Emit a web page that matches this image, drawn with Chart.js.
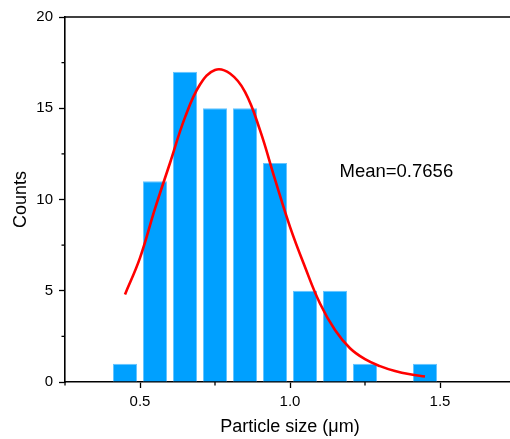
<!DOCTYPE html>
<html lang="en">

<head>
    <meta charset="UTF-8">
    <title>Particle size histogram</title>
    <style>
        html, body {
            margin: 0;
            padding: 0;
            background: white;
            overflow: hidden;
        }

        #chart-container {
            position: relative;
            width: 520px;
            height: 439px;
        }
    </style>
</head>

<body>
    <div id="chart-container">
        <canvas id="myChart"></canvas>
    </div>

    <script src="https://cdn.jsdelivr.net/npm/chart.js"></script>
    <script>
        // histogram bins (centre of each 0.1 um bin) and counts
        const binCenters = [0.45, 0.55, 0.65, 0.75, 0.85, 0.95, 1.05, 1.15, 1.25, 1.35, 1.45];
        const counts = [1, 11, 17, 15, 15, 12, 5, 5, 1, 0, 1];

        // fitted curve
        const fitX = [0.45, 0.50, 0.55, 0.60, 0.65, 0.70, 0.75, 0.80, 0.85, 0.90, 0.95,
            1.00, 1.05, 1.10, 1.15, 1.20, 1.25, 1.30, 1.35, 1.40, 1.45];
        const fitY = [4.8, 6.8, 9.5, 12.0, 14.5, 16.3, 17.1, 16.9, 15.9, 13.8, 11.1,
            8.5, 6.3, 4.3, 2.85, 1.85, 1.25, 0.87, 0.6, 0.42, 0.3];

        const meanText = 'Mean=0.7656';

        const axisFont = { family: 'Liberation Sans, Arial, sans-serif', size: 15 };
        const titleFont = { family: 'Liberation Sans, Arial, sans-serif', size: 18 };

        const isMajorX = v => Math.abs(v * 2 - Math.round(v * 2)) < 1e-6;
        const isMajorY = v => Math.abs(v / 5 - Math.round(v / 5)) < 1e-6;

        // minor ticks, top frame line and the mean label
        const extras = {
            id: 'extras',
            afterDraw(chart) {
                const ctx = chart.ctx;
                const area = chart.chartArea;
                const x = chart.scales.x;
                const y = chart.scales.y;
                ctx.save();
                ctx.strokeStyle = '#000';
                ctx.lineWidth = 1.3;
                x.ticks.forEach(t => {
                    if (isMajorX(t.value)) return;
                    const px = x.getPixelForValue(t.value);
                    ctx.beginPath();
                    ctx.moveTo(px, area.bottom);
                    ctx.lineTo(px, area.bottom + 3.5);
                    ctx.stroke();
                });
                y.ticks.forEach(t => {
                    if (isMajorY(t.value)) return;
                    const py = y.getPixelForValue(t.value);
                    ctx.beginPath();
                    ctx.moveTo(area.left, py);
                    ctx.lineTo(area.left - 3.5, py);
                    ctx.stroke();
                });
                ctx.lineWidth = 1.6;
                ctx.beginPath();
                ctx.moveTo(area.left, area.top);
                ctx.lineTo(area.right, area.top);
                ctx.stroke();

                ctx.fillStyle = '#000';
                ctx.font = '18.5px Liberation Sans, Arial, sans-serif';
                ctx.textAlign = 'left';
                ctx.textBaseline = 'middle';
                ctx.fillText(meanText, x.getPixelForValue(1.165), y.getPixelForValue(11.5));
                ctx.restore();
            }
        };

        const ctx = document.getElementById('myChart').getContext('2d');
        var chart = new Chart(ctx, {
            type: 'bar',
            data: {
                datasets: [{
                    type: 'line',
                    label: 'Fit',
                    data: fitX.map((v, i) => ({ x: v, y: fitY[i] })),
                    borderColor: '#FF0000',
                    borderWidth: 2.6,
                    pointRadius: 0,
                    fill: false,
                    tension: 0.4,
                    order: 0
                }, {
                    label: 'Counts',
                    data: binCenters.map((v, i) => ({ x: v, y: counts[i] })),
                    backgroundColor: '#00A0FF',
                    borderColor: '#66C4FF',
                    borderWidth: 1,
                    categoryPercentage: 1,
                    barPercentage: 0.8,
                    order: 1
                }]
            },
            options: {
                responsive: true,
                maintainAspectRatio: false,
                animation: false,
                layout: {
                    padding: { top: 17, right: 4, left: 0, bottom: 0 }
                },
                plugins: {
                    legend: { display: false },
                    tooltip: { enabled: false }
                },
                scales: {
                    x: {
                        type: 'linear',
                        min: 0.25,
                        max: 1.75,
                        offset: false,
                        afterFit: s => { s.height = 57; },
                        ticks: {
                            stepSize: 0.25,
                            color: '#000',
                            font: axisFont,
                            padding: 5,
                            maxRotation: 0,
                            autoSkip: false,
                            callback: v => isMajorX(v) && v > 0.3 ? v.toFixed(1) : ''
                        },
                        grid: {
                            offset: false,
                            drawOnChartArea: false,
                            tickLength: 6,
                            tickWidth: 1.3,
                            tickColor: c => isMajorX(c.tick.value) ? '#000' : 'rgba(0,0,0,0)'
                        },
                        border: { color: '#000', width: 1.6 },
                        title: {
                            display: true,
                            text: 'Particle size (μm)',
                            color: '#000',
                            font: titleFont,
                            padding: { top: 0, bottom: 1 }
                        }
                    },
                    y: {
                        min: 0,
                        max: 20,
                        afterFit: s => { s.width = 65; },
                        ticks: {
                            stepSize: 2.5,
                            color: '#000',
                            font: axisFont,
                            padding: 6,
                            autoSkip: false,
                            callback: v => isMajorY(v) ? String(v) : ''
                        },
                        grid: {
                            drawOnChartArea: false,
                            tickLength: 6,
                            tickWidth: 1.3,
                            tickColor: c => isMajorY(c.tick.value) ? '#000' : 'rgba(0,0,0,0)'
                        },
                        border: { color: '#000', width: 1.6 },
                        title: {
                            display: true,
                            text: 'Counts',
                            color: '#000',
                            font: titleFont,
                            padding: { top: 10, bottom: 0 }
                        }
                    }
                }
            },
            plugins: [extras]
        });
    </script>
</body>

</html>
